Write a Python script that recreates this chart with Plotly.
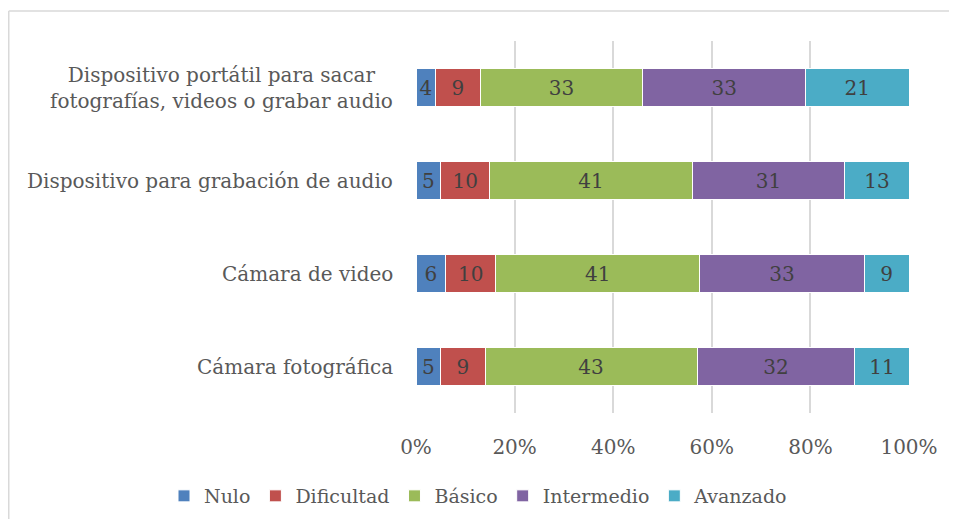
import plotly.graph_objects as go

categories = [
    "Dispositivo portátil para sacar<br>fotografías, videos o grabar audio",
    "Dispositivo para grabación de audio",
    "Cámara de video",
    "Cámara fotográfica",
]
series_names = ["Nulo", "Dificultad", "Básico", "Intermedio", "Avanzado"]
nulo = [4, 5, 6, 5]
dificultad = [9, 10, 10, 9]
basico = [33, 41, 41, 43]
intermedio = [33, 31, 33, 32]
avanzado = [21, 13, 9, 11]
series_values = [nulo, dificultad, basico, intermedio, avanzado]
colors = ["#4F81BD", "#C0504D", "#9BBB59", "#8064A2", "#4BACC6"]
tick_vals = [0, 20, 40, 60, 80, 100]
tick_text = ["0%", "20%", "40%", "60%", "80%", "100%"]

FONT = "DejaVu Serif"
TXT = "#595959"
FS = 20

fig = go.Figure()
for name, vals, col in zip(series_names, series_values, colors):
    fig.add_trace(go.Bar(
        y=categories, x=vals, name=name, orientation="h",
        marker=dict(color=col, line=dict(color="white", width=1)),
        text=[str(v) for v in vals], textposition="inside",
        insidetextanchor="middle", constraintext="none", textangle=0,
        textfont=dict(family=FONT, size=FS, color="#404040"),
        hoverinfo="skip",
    ))

# figure sits at page offset (8, 8) because of the default body margin
W, H = 941, 511
L, T = 408, 33
pw, ph = 493, 372
R = W - L - pw
B = H - T - ph

def px_x(p):
    return (p - L) / pw

def px_y(p):
    return (T + ph - p) / ph

shapes = [
    dict(type="line", xref="paper", yref="paper", x0=px_x(0.75), x1=px_x(W + 5),
         y0=px_y(3), y1=px_y(3), line=dict(color="#D9D9D9", width=1.5)),
    dict(type="line", xref="paper", yref="paper", x0=px_x(0.75), x1=px_x(0.75),
         y0=px_y(3), y1=px_y(H + 5), line=dict(color="#D9D9D9", width=1.5)),
]

annotations = [
    dict(x=0, xref="paper", y=c, yref="y", text=c, showarrow=False,
         xanchor="right", yanchor="middle", align="center", xshift=-21,
         font=dict(family=FONT, size=FS, color=TXT))
    for c in categories
]

fig.update_layout(
    width=W, height=H,
    margin=dict(l=L, r=R, t=T, b=B, autoexpand=False),
    barmode="stack", barnorm="percent", bargap=0.6,
    paper_bgcolor="white", plot_bgcolor="white",
    font=dict(family=FONT, size=FS, color=TXT),
    shapes=shapes, annotations=annotations,
    showlegend=True,
    legend=dict(orientation="h", xref="paper", yref="paper",
                x=px_x(156), xanchor="left", y=px_y(488), yanchor="middle",
                font=dict(family=FONT, size=19, color=TXT),
                traceorder="normal", itemwidth=30, bgcolor="rgba(0,0,0,0)"),
    xaxis=dict(range=[0, 100], tickvals=tick_vals, ticktext=tick_text,
               showgrid=True, gridcolor="#D9D9D9", gridwidth=1.5,
               zeroline=False, showline=False,
               ticks="outside", ticklen=16, tickcolor="rgba(0,0,0,0)",
               tickfont=dict(family=FONT, size=FS, color=TXT), fixedrange=True),
    yaxis=dict(categoryorder="array", categoryarray=categories,
               autorange="reversed", showticklabels=False, showgrid=False,
               zeroline=False, showline=False, fixedrange=True),
)

fig.write_html("out.html")
